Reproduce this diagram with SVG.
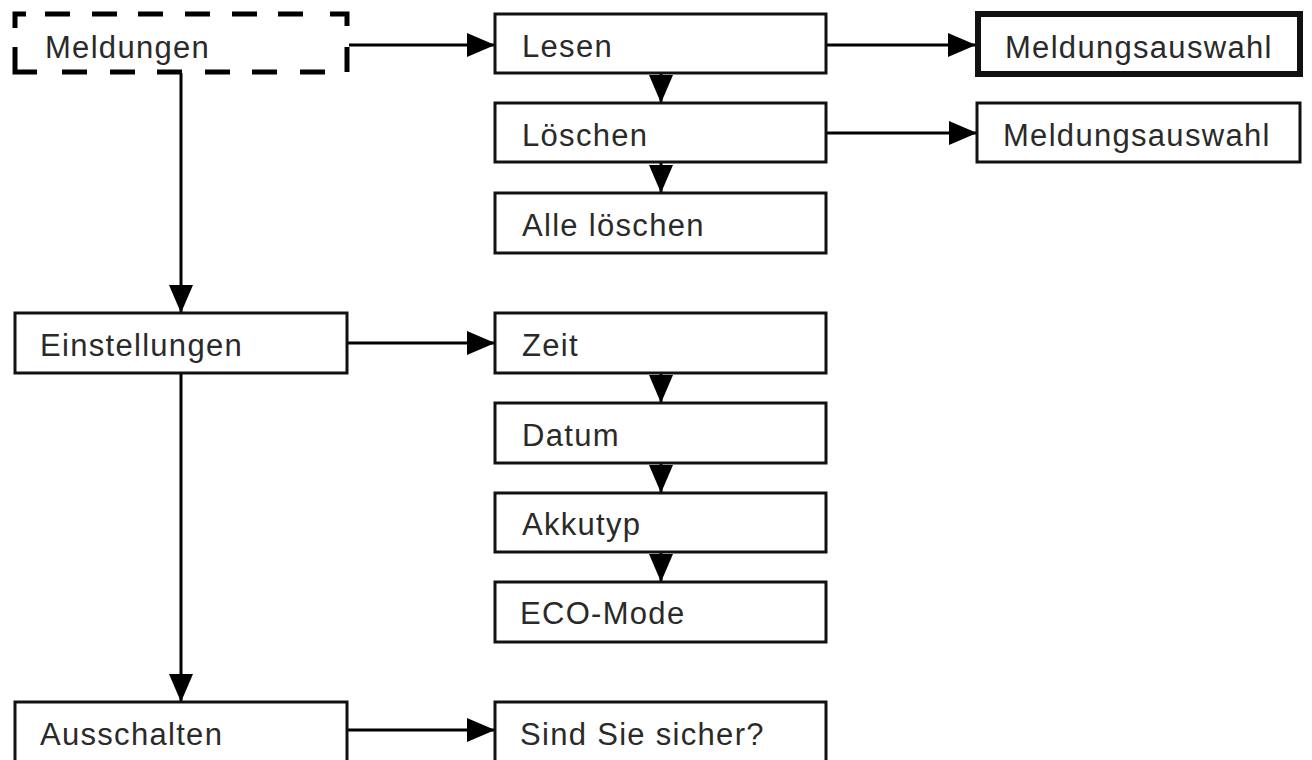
<svg xmlns="http://www.w3.org/2000/svg" width="1312" height="760" viewBox="0 0 1312 760">
<style>
.box{fill:#fff;stroke:#111;stroke-width:3}
.thick{stroke-width:6}
.lbl{font-family:"Liberation Sans",Arial,sans-serif;font-size:31px;letter-spacing:1.3px;fill:#2a2a2a}
.con{stroke:#000;stroke-width:3;fill:none}
.dash{stroke:#000;stroke-width:5;fill:none}
</style>
<defs>
<marker id="ah" markerUnits="userSpaceOnUse" markerWidth="30" markerHeight="26" refX="28" refY="12" orient="auto">
<path d="M0,0 L28,12 L0,24 Z" fill="#000"/>
</marker>
</defs>
<rect width="1312" height="760" fill="#fff"/>
<g id="connectors">
<line class="con" x1="349" y1="45" x2="495" y2="45" marker-end="url(#ah)"/>
<line class="con" x1="826" y1="45" x2="976" y2="45" marker-end="url(#ah)"/>
<line class="con" x1="826" y1="133" x2="977" y2="133" marker-end="url(#ah)"/>
<line class="con" x1="347" y1="343" x2="495" y2="343" marker-end="url(#ah)"/>
<line class="con" x1="347" y1="730" x2="495" y2="730" marker-end="url(#ah)"/>
<line class="con" x1="181" y1="73" x2="181" y2="313" marker-end="url(#ah)"/>
<line class="con" x1="181" y1="373" x2="181" y2="702" marker-end="url(#ah)"/>
<line class="con" x1="661" y1="73" x2="661" y2="103" marker-end="url(#ah)"/>
<line class="con" x1="661" y1="162" x2="661" y2="193" marker-end="url(#ah)"/>
<line class="con" x1="661" y1="373" x2="661" y2="403" marker-end="url(#ah)"/>
<line class="con" x1="661" y1="463" x2="661" y2="493" marker-end="url(#ah)"/>
<line class="con" x1="661" y1="552" x2="661" y2="582" marker-end="url(#ah)"/>
</g>
<g id="n-meldungen">
<path class="dash" d="M15,28 V14 H26 M45,14 H70 M92,14 H117 M138,14 H163 M185,14 H210 M232,14 H257 M278,14 H303 M330,14 H347 V26 M347,47 V72 M325,72 H300 M277,72 H252 M230,72 H205 M182,72 H157 M135,72 H110 M87,72 H62 M37,72 H15 V47"/>
<text class="lbl" x="45" y="58">Meldungen</text>
</g>
<g id="n-lesen"><rect class="box" x="495" y="14" width="331" height="59"/><text class="lbl" x="522" y="57">Lesen</text></g>
<g id="n-auswahl1"><rect class="box thick" x="978" y="14" width="322" height="60"/><text class="lbl" x="1005" y="58">Meldungsauswahl</text></g>
<g id="n-loeschen"><rect class="box" x="495" y="103" width="331" height="59"/><text class="lbl" x="522" y="146">Löschen</text></g>
<g id="n-auswahl2"><rect class="box" x="977" y="103" width="323" height="59"/><text class="lbl" x="1003" y="146">Meldungsauswahl</text></g>
<g id="n-alle"><rect class="box" x="495" y="193" width="331" height="60"/><text class="lbl" x="522" y="236">Alle löschen</text></g>
<g id="n-einstellungen"><rect class="box" x="15" y="313" width="332" height="60"/><text class="lbl" x="40" y="356">Einstellungen</text></g>
<g id="n-zeit"><rect class="box" x="495" y="313" width="331" height="60"/><text class="lbl" x="522" y="356">Zeit</text></g>
<g id="n-datum"><rect class="box" x="495" y="403" width="331" height="60"/><text class="lbl" x="522" y="446">Datum</text></g>
<g id="n-akkutyp"><rect class="box" x="495" y="493" width="331" height="59"/><text class="lbl" x="522" y="535">Akkutyp</text></g>
<g id="n-eco"><rect class="box" x="495" y="582" width="331" height="60"/><text class="lbl" x="520" y="624">ECO-Mode</text></g>
<g id="n-ausschalten"><rect class="box" x="15" y="702" width="332" height="62"/><text class="lbl" x="40" y="745">Ausschalten</text></g>
<g id="n-sicher"><rect class="box" x="495" y="702" width="331" height="62"/><text class="lbl" x="520" y="745">Sind Sie sicher?</text></g>
</svg>
